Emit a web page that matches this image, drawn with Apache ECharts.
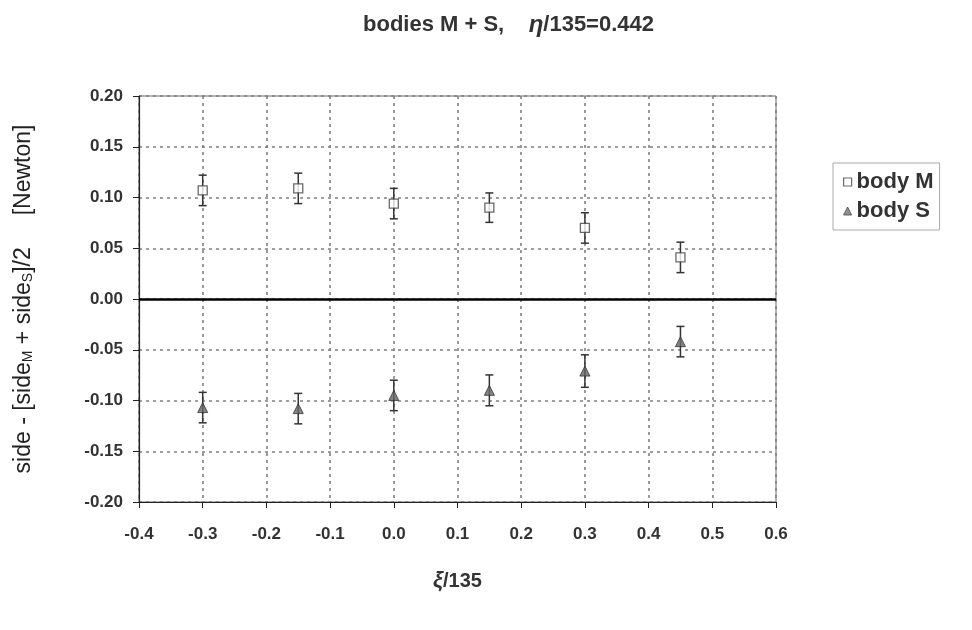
<!DOCTYPE html>
<html>
<head>
<meta charset="utf-8">
<script src="https://cdn.jsdelivr.net/npm/echarts@6/dist/echarts.min.js"></script>
<style>
html,body{margin:0;padding:0;background:#fff;}
#c{width:972px;height:630px;}
</style>
</head>
<body>
<div id="c"></div>
<script>
var xValues = [-0.3, -0.15, 0.0, 0.15, 0.3, 0.45];
var bodyM = [0.107, 0.109, 0.094, 0.090, 0.070, 0.041];
var bodyMErr = [0.015, 0.015, 0.015, 0.0145, 0.015, 0.015];
var bodyS = [-0.107, -0.108, -0.095, -0.090, -0.071, -0.042];
var bodySErr = [0.015, 0.015, 0.015, 0.0152, 0.016, 0.015];
var xTicks = [-0.4, -0.3, -0.2, -0.1, 0.0, 0.1, 0.2, 0.3, 0.4, 0.5, 0.6];
var yTicks = [-0.20, -0.15, -0.10, -0.05, 0.00, 0.05, 0.10, 0.15, 0.20];

var FONT = '"Liberation Sans", Arial, sans-serif';

function pairs(ys) { return xValues.map(function (x, i) { return [x, ys[i]]; }); }
function errData(ys, es) { return xValues.map(function (x, i) { return [x, ys[i] - es[i], ys[i] + es[i]]; }); }

function errRender(params, api) {
  var x = api.value(0);
  var lo = api.coord([x, api.value(1)]);
  var hi = api.coord([x, api.value(2)]);
  var hw = 4;
  var st = { stroke: '#333', lineWidth: 1.5 };
  return {
    type: 'group',
    children: [
      { type: 'line', shape: { x1: lo[0], y1: lo[1], x2: hi[0], y2: hi[1] }, style: st },
      { type: 'line', shape: { x1: lo[0] - hw, y1: lo[1], x2: lo[0] + hw, y2: lo[1] }, style: st },
      { type: 'line', shape: { x1: hi[0] - hw, y1: hi[1], x2: hi[0] + hw, y2: hi[1] }, style: st }
    ]
  };
}

var chart = echarts.init(document.getElementById('c'), null, { renderer: 'canvas' });
chart.setOption({
  animation: false,
  backgroundColor: '#ffffff',
  title: {
    text: 'bodies M + S,    {it|η}/135=0.442',
    left: 358, top: 8,
    textStyle: {
      fontFamily: FONT, fontSize: 22, fontWeight: 'bold', color: '#333',
      rich: { it: { fontFamily: FONT, fontSize: 24, fontStyle: 'italic', fontWeight: 'bold', color: '#333' } }
    }
  },
  legend: {
    orient: 'vertical',
    left: 833, top: 163,
    padding: [8, 6, 8, 10],
    itemGap: 7,
    itemWidth: 8, itemHeight: 8,
    borderColor: '#aaa', borderWidth: 1,
    textStyle: { fontFamily: FONT, fontSize: 22, fontWeight: 'bold', color: '#333', padding: [0, 0, 0, 0] },
    data: [
      { name: 'body M', icon: 'rect', itemStyle: { color: '#fff', borderColor: '#444', borderWidth: 1.2 } },
      { name: 'body S', icon: 'triangle', itemStyle: { color: '#777', borderColor: '#444', borderWidth: 1 } }
    ]
  },
  grid: { left: 139, right: 196, top: 96, bottom: 128, show: true, borderColor: '#666', borderWidth: 1 },
  xAxis: {
    type: 'value', min: -0.4, max: 0.6, interval: 0.1,
    name: '{it|ξ}/135', nameLocation: 'middle', nameGap: 68,
    nameTextStyle: {
      fontFamily: FONT, fontSize: 20, fontWeight: 'bold', color: '#333',
      rich: { it: { fontFamily: FONT, fontSize: 22, fontStyle: 'italic', fontWeight: 'bold', color: '#333' } }
    },
    axisLine: { onZero: false, lineStyle: { color: '#222', width: 1.2 } },
    axisTick: { show: true, inside: false, length: 6, lineStyle: { color: '#222' } },
    axisLabel: {
      margin: 24, fontFamily: FONT, fontSize: 17, fontWeight: 'bold', color: '#333',
      formatter: function (v) {
        var t = xTicks.filter(function (k) { return Math.abs(k - v) < 1e-9; });
        return t.length ? t[0].toFixed(1) : '';
      }
    },
    splitLine: { show: true, lineStyle: { color: '#808080', type: [3, 4], width: 1.6 } }
  },
  yAxis: {
    type: 'value', min: -0.2, max: 0.2, interval: 0.05,
    name: 'side - [side{sub|M} + side{sub|S}]/2     [Newton]', nameLocation: 'middle', nameGap: 104, nameRotate: 90,
    nameTextStyle: {
      fontFamily: FONT, fontSize: 23, color: '#222',
      rich: { sub: { fontFamily: FONT, fontSize: 14, color: '#222', verticalAlign: 'bottom', padding: [7, 0, 0, 0] } }
    },
    axisLine: { show: true, onZero: false, lineStyle: { color: '#222', width: 1.2 } },
    axisTick: { show: true, inside: false, length: 6, lineStyle: { color: '#222' } },
    axisLabel: {
      margin: 16, fontFamily: FONT, fontSize: 17, fontWeight: 'bold', color: '#333',
      formatter: function (v) {
        var t = yTicks.filter(function (k) { return Math.abs(k - v) < 1e-9; });
        return t.length ? t[0].toFixed(2) : '';
      }
    },
    splitLine: { show: true, lineStyle: { color: '#808080', type: [3, 4], width: 1.6 } }
  },
  series: [
    { name: 'errM', type: 'custom', renderItem: errRender, data: errData(bodyM, bodyMErr), encode: { x: 0, y: [1, 2] }, z: 3, silent: true },
    { name: 'errS', type: 'custom', renderItem: errRender, data: errData(bodyS, bodySErr), encode: { x: 0, y: [1, 2] }, z: 3, silent: true },
    {
      name: 'body M', type: 'scatter', data: pairs(bodyM), symbol: 'rect', symbolSize: 9, z: 5,
      itemStyle: { color: '#fff', borderColor: '#444', borderWidth: 1.3 },
      markLine: {
        silent: true, symbol: 'none', label: { show: false },
        lineStyle: { color: '#000', width: 2.5, type: 'solid' },
        data: [{ yAxis: 0 }]
      }
    },
    {
      name: 'body S', type: 'scatter', data: pairs(bodyS), symbol: 'triangle', symbolSize: 10, z: 5,
      itemStyle: { color: '#666', borderColor: '#333', borderWidth: 1 }
    }
  ]
});
</script>
</body>
</html>
